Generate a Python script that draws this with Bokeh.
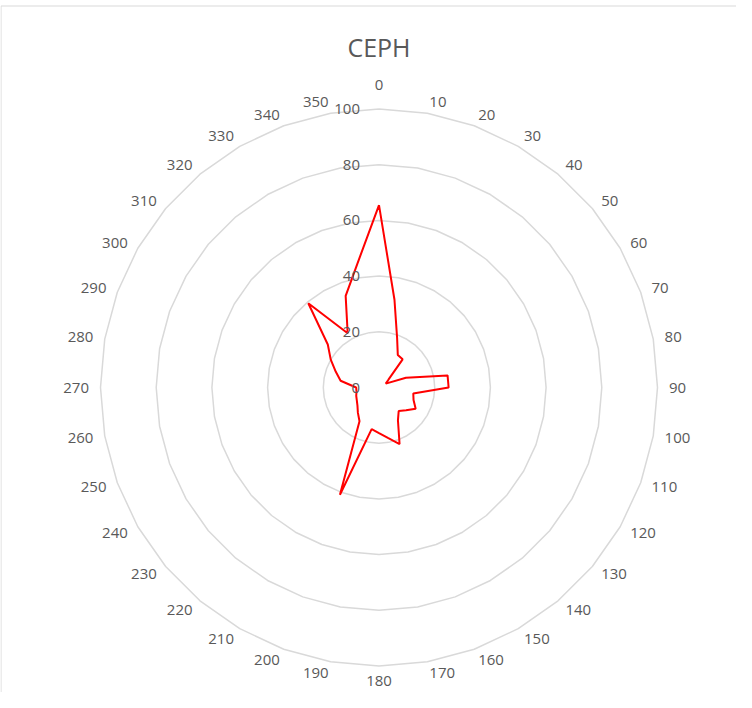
import numpy as np
from bokeh.plotting import figure
from bokeh.models import Range1d, Label, ColumnDataSource
from bokeh.core.properties import value
from bokeh.embed import file_html
from bokeh.resources import INLINE

# ---- data ----
title_text = "CEPH"
categories = ["0", "10", "20", "30", "40", "50", "60", "70", "80", "90",
              "100", "110", "120", "130", "140", "150", "160", "170", "180", "190",
              "200", "210", "220", "230", "240", "250", "260", "270", "280", "290",
              "300", "310", "320", "330", "340", "350"]
angles_deg = [0, 10, 20, 30, 40, 50, 60, 70, 80, 90,
              100, 110, 120, 130, 140, 150, 160, 170, 180, 190,
              200, 210, 220, 230, 240, 250, 260, 270, 280, 290,
              300, 310, 320, 330, 340, 350]
values = [65.5, 32, 19, 13.5, 13.2, 4.5, 2.8, 10.3, 25, 25,
          12.5, 13.2, 15.2, 12.7, 11, 13.6, 21.6, 18.4, 16.4, 15.2,
          41, 14, 11.8, 10.1, 9.2, 8.7, 8.2, 8.2, 14, 16.5,
          20, 24, 39.5, 22.5, 35, 45]
grid_levels = [20, 40, 60, 80, 100]
value_ticks = [0, 20, 40, 60, 80, 100]
value_tick_labels = ["0", "20", "40", "60", "80", "100"]

# ---- layout ----
W, H = 736, 692
S = 2.785              # pixels per value unit
CX, CY = 378.5, 387.0  # centre inside the figure (px)
FONT = "Open Sans"
TXT = "#595959"
GRID = "#d9d9d9"
FS = "15px"

p = figure(width=W, height=H, output_backend="svg", toolbar_location=None,
           x_axis_type=None, y_axis_type=None, min_border=0,
           x_range=Range1d(-CX / S, (W - CX) / S),
           y_range=Range1d(-(H - CY) / S, CY / S))
p.outline_line_color = None
p.xgrid.visible = False
p.ygrid.visible = False
p.background_fill_color = "white"
p.border_fill_color = "white"

th = np.radians(np.array(angles_deg, dtype=float))
sin_t, cos_t = np.sin(th), np.cos(th)

# chart-area border (left and top edges visible)
x0 = p.x_range.start + 0.5 / S
ytop = p.y_range.end - 5.5 / S
p.line([x0, x0, p.x_range.end], [p.y_range.start, ytop, ytop],
       line_color=GRID, line_width=1)

# grid polygons
gx = [list(np.append(lv * sin_t, lv * sin_t[0])) for lv in grid_levels]
gy = [list(np.append(lv * cos_t, lv * cos_t[0])) for lv in grid_levels]
p.multi_line(gx, gy, line_color=GRID, line_width=1.5)

# data polygon
v = np.array(values, dtype=float)
xs = np.append(v * sin_t, v[0] * sin_t[0])
ys = np.append(v * cos_t, v[0] * cos_t[0])
p.line(xs, ys, line_color="#ff0000", line_width=2)

# value axis labels
p.text(x=[-19.0 / S] * len(value_ticks), y=value_ticks, text=value_tick_labels,
       text_align="right", text_baseline="middle", text_color=TXT,
       text_font=value(FONT), text_font_size=FS)

# category labels
rl = 290.0 / S
r_top = 302.5 / S
r_bottom = 293.0 / S
lx, ly, la = [], [], []
for a, s_, c_ in zip(angles_deg, sin_t, cos_t):
    if a == 0 or a == 180:
        r = r_top if a == 0 else r_bottom
        lx.append(r * s_)
        ly.append(r * c_)
        la.append("center")
    else:
        lx.append(rl * s_)
        ly.append(rl * c_)
        la.append("left" if a < 180 else "right")
src = ColumnDataSource(dict(x=lx, y=ly, t=categories, a=la))
p.text(x="x", y="y", text="t", text_align="a", text_baseline="middle", source=src,
       text_color=TXT, text_font=value(FONT), text_font_size=FS)

# title
p.add_layout(Label(x=0, y=(CY - 46) / S, text=title_text, text_align="center",
                   text_baseline="middle", text_color=TXT, text_font=FONT,
                   text_font_size="25px"))

open("out.html", "w").write(file_html(p, INLINE))
